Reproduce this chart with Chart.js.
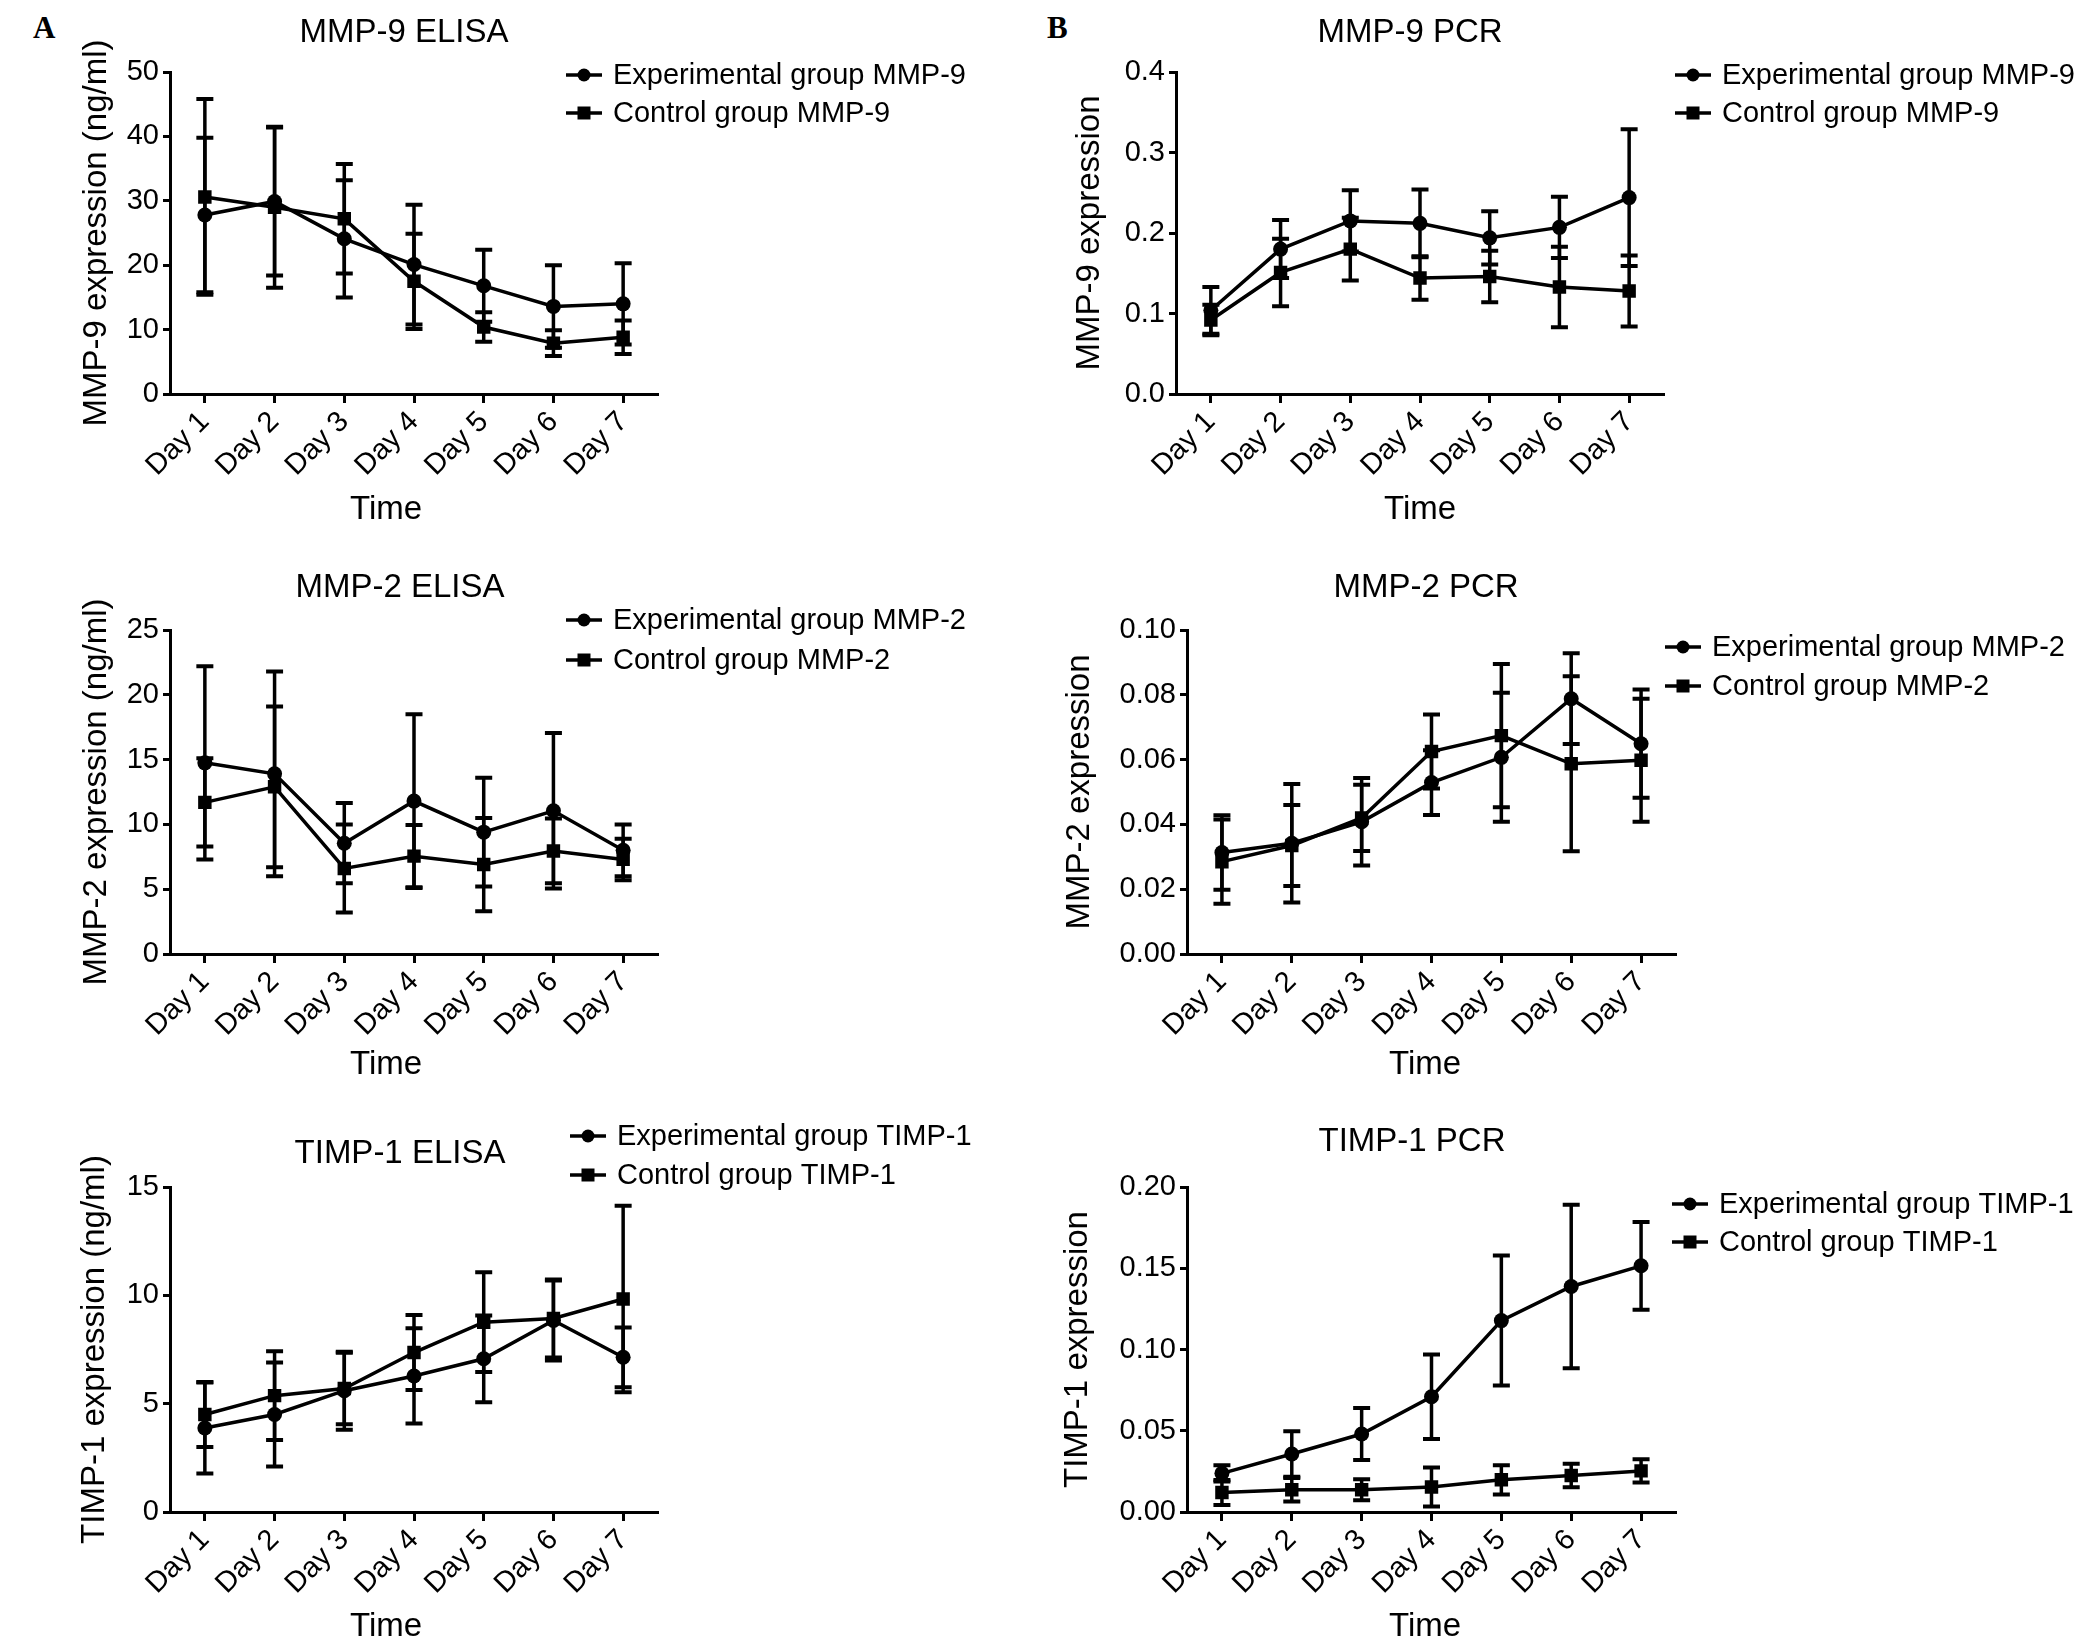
<!DOCTYPE html>
<html>
<head>
<meta charset="utf-8">
<script src="https://cdn.jsdelivr.net/npm/chart.js@4.4.1/dist/chart.umd.min.js"></script>
<style>
  html, body { margin: 0; padding: 0; background: #fff; overflow: hidden; }
  canvas { position: absolute; left: 0; top: 0; }
  .tag { position: absolute; font-family: 'Liberation Serif', 'Times New Roman', serif; font-weight: bold; font-size: 31px; color: #000; }
</style>
</head>
<body>
<div class="tag" style="left:33px; top:10px;">A</div>
<div class="tag" style="left:1047px; top:10px;">B</div>
<canvas id="c1" width="2075" height="1648"></canvas>
<canvas id="c2" width="2075" height="1648"></canvas>
<canvas id="c3" width="2075" height="1648"></canvas>
<canvas id="c4" width="2075" height="1648"></canvas>
<canvas id="c5" width="2075" height="1648"></canvas>
<canvas id="c6" width="2075" height="1648"></canvas>
<script>
// categories
var days = ['Day 1', 'Day 2', 'Day 3', 'Day 4', 'Day 5', 'Day 6', 'Day 7'];

// MMP-9 ELISA (ng/ml), mean and error
var mmp9ElisaExp     = [27.8, 29.9, 24.1, 20.1, 16.8, 13.6, 14.0];
var mmp9ElisaExpErr  = [12.0, 11.5, 9.1, 9.3, 5.6, 6.4, 6.3];
var mmp9ElisaCtrl    = [30.6, 29.0, 27.2, 17.5, 10.4, 7.9, 8.8];
var mmp9ElisaCtrlErr = [15.2, 12.5, 8.5, 7.4, 2.3, 2.0, 2.6];

// MMP-9 PCR
var mmp9PcrExp     = [0.104, 0.180, 0.215, 0.212, 0.194, 0.207, 0.244];
var mmp9PcrExpErr  = [0.029, 0.036, 0.038, 0.042, 0.033, 0.038, 0.085];
var mmp9PcrCtrl    = [0.092, 0.151, 0.180, 0.144, 0.146, 0.133, 0.128];
var mmp9PcrCtrlErr = [0.019, 0.042, 0.039, 0.027, 0.032, 0.050, 0.044];

// MMP-2 ELISA (ng/ml)
var mmp2ElisaExp     = [14.75, 13.9, 8.55, 11.8, 9.4, 11.05, 8.0];
var mmp2ElisaExpErr  = [7.45, 7.9, 3.1, 6.7, 4.2, 6.0, 2.0];
var mmp2ElisaCtrl    = [11.7, 12.9, 6.6, 7.55, 6.9, 7.95, 7.3];
var mmp2ElisaCtrlErr = [3.4, 6.2, 3.4, 2.4, 3.6, 2.5, 1.6];

// MMP-2 PCR
var mmp2PcrExp     = [0.0313, 0.0342, 0.0408, 0.0529, 0.0607, 0.0788, 0.0649];
var mmp2PcrExpErr  = [0.0115, 0.0183, 0.0135, 0.0100, 0.0199, 0.0140, 0.0167];
var mmp2PcrCtrl    = [0.0285, 0.0335, 0.0420, 0.0625, 0.0674, 0.0587, 0.0598];
var mmp2PcrCtrlErr = [0.0130, 0.0125, 0.0102, 0.0114, 0.0221, 0.0270, 0.0190];

// TIMP-1 ELISA (ng/ml)
var timp1ElisaExp     = [3.88, 4.5, 5.6, 6.28, 7.07, 8.84, 7.14];
var timp1ElisaExpErr  = [2.1, 2.4, 1.8, 2.2, 2.0, 1.85, 1.38];
var timp1ElisaCtrl    = [4.5, 5.37, 5.7, 7.36, 8.76, 8.93, 9.83];
var timp1ElisaCtrlErr = [1.5, 2.05, 1.65, 1.73, 2.3, 1.8, 4.3];

// TIMP-1 PCR
var timp1PcrExp     = [0.0238, 0.0357, 0.048, 0.0709, 0.1178, 0.1388, 0.1515];
var timp1PcrExpErr  = [0.005, 0.014, 0.016, 0.026, 0.040, 0.0503, 0.027];
var timp1PcrCtrl    = [0.012, 0.0137, 0.0137, 0.0154, 0.0198, 0.0225, 0.0253];
var timp1PcrCtrlErr = [0.0077, 0.0072, 0.0065, 0.012, 0.009, 0.0072, 0.0072];

var FONT = "'Liberation Sans', Arial, Helvetica, sans-serif";
var W = 2075, H = 1648;

// vertical error bars with caps, placed with the chart's own y scale
var errorBars = {
    id: 'errorBars',
    afterDatasetsDraw: function(chart) {
        var ctx = chart.ctx;
        var y = chart.scales.y;
        chart.data.datasets.forEach(function(ds, i) {
            var meta = chart.getDatasetMeta(i);
            meta.data.forEach(function(pt, j) {
                var v = ds.data[j], e = ds.errors[j];
                var top = y.getPixelForValue(v + e);
                var bot = y.getPixelForValue(v - e);
                ctx.save();
                ctx.strokeStyle = '#000';
                ctx.lineWidth = 3.5;
                ctx.beginPath();
                ctx.moveTo(pt.x, top);
                ctx.lineTo(pt.x, bot);
                ctx.stroke();
                ctx.lineWidth = 4;
                ctx.beginPath();
                ctx.moveTo(pt.x - 8.5, top); ctx.lineTo(pt.x + 8.5, top);
                ctx.moveTo(pt.x - 8.5, bot); ctx.lineTo(pt.x + 8.5, bot);
                ctx.stroke();
                ctx.restore();
            });
        });
    }
};

// titles, axis titles and the little legend
var panelText = {
    id: 'panelText',
    afterDraw: function(chart, args, o) {
        var ctx = chart.ctx;
        ctx.save();
        ctx.fillStyle = '#000';
        ctx.textBaseline = 'middle';
        ctx.textAlign = 'center';
        ctx.font = '33px ' + FONT;
        ctx.fillText(o.title, o.titleX, o.titleY);
        ctx.fillText('Time', o.xTitleX, o.xTitleY);
        ctx.save();
        ctx.translate(o.yTitleX, (chart.chartArea.top + chart.chartArea.bottom) / 2);
        ctx.rotate(-Math.PI / 2);
        ctx.fillText(o.yTitle, 0, 0);
        ctx.restore();

        ctx.textAlign = 'left';
        ctx.font = '29px ' + FONT;
        chart.data.datasets.forEach(function(ds, i) {
            var ly = o.legendY[i];
            var mx = (o.legendX0 + o.legendX1) / 2;
            ctx.strokeStyle = '#000';
            ctx.lineWidth = 3.5;
            ctx.beginPath();
            ctx.moveTo(o.legendX0, ly);
            ctx.lineTo(o.legendX1, ly);
            ctx.stroke();
            ctx.beginPath();
            if (ds.pointStyle === 'rect') {
                ctx.rect(mx - 6.5, ly - 6.5, 13, 13);
            } else {
                ctx.arc(mx, ly, 6.5, 0, Math.PI * 2);
            }
            ctx.fill();
            ctx.fillText(ds.label, o.textX, ly + 1);
        });
        ctx.restore();
    }
};

function makePanel(id, p) {
    var xAxisH = 110;
    return new Chart(document.getElementById(id), {
        type: 'line',
        data: {
            labels: days,
            datasets: [{
                label: 'Experimental group ' + p.name,
                data: p.exp,
                errors: p.expErr,
                pointStyle: 'circle',
                pointRadius: 7.5
            }, {
                label: 'Control group ' + p.name,
                data: p.ctrl,
                errors: p.ctrlErr,
                pointStyle: 'rect',
                pointRadius: 9.5
            }]
        },
        options: {
            responsive: false,
            animation: false,
            layout: {
                padding: { left: 0, top: p.top, right: W - p.right, bottom: H - p.bottom - xAxisH }
            },
            elements: {
                line: { borderColor: '#000', borderWidth: 3.5, tension: 0 },
                point: { backgroundColor: '#000', borderColor: '#000', borderWidth: 0 }
            },
            scales: {
                x: {
                    type: 'category',
                    offset: true,
                    grid: { display: true, drawOnChartArea: false, offset: false, tickLength: 9, tickWidth: 3, tickColor: '#000' },
                    border: { display: true, width: 3, color: '#000' },
                    ticks: { color: '#000', font: { family: FONT, size: 29 }, minRotation: 45, maxRotation: 45, autoSkip: false, padding: 2 },
                    afterFit: function(s) { s.height = xAxisH; }
                },
                y: {
                    min: 0,
                    max: p.max,
                    grid: { display: true, drawOnChartArea: false, tickLength: 7, tickWidth: 3, tickColor: '#000' },
                    border: { display: true, width: 3, color: '#000' },
                    ticks: {
                        stepSize: p.step,
                        color: '#000',
                        font: { family: FONT, size: 29 },
                        padding: 4,
                        callback: function(v) { return v.toFixed(p.dec); }
                    },
                    afterFit: function(s) { s.width = p.left; }
                }
            },
            plugins: {
                legend: { display: false },
                tooltip: { enabled: false },
                panelText: {
                    title: p.title, titleX: p.titleX, titleY: p.titleY,
                    yTitle: p.yTitle, yTitleX: p.yTitleX,
                    xTitleX: p.xTitleX, xTitleY: p.xTitleY,
                    legendX0: p.legX0, legendX1: p.legX0 + 36, textX: p.legX0 + 47,
                    legendY: p.legY
                }
            }
        },
        plugins: [errorBars, panelText]
    });
}

makePanel('c1', {
    name: 'MMP-9', title: 'MMP-9 ELISA', yTitle: 'MMP-9 expression (ng/ml)',
    exp: mmp9ElisaExp, expErr: mmp9ElisaExpErr, ctrl: mmp9ElisaCtrl, ctrlErr: mmp9ElisaCtrlErr,
    max: 50, step: 10, dec: 0,
    left: 170, right: 658, top: 72, bottom: 394,
    titleX: 404, titleY: 33, yTitleX: 97, xTitleX: 386, xTitleY: 510,
    legX0: 566, legY: [75, 113]
});
makePanel('c2', {
    name: 'MMP-9', title: 'MMP-9 PCR', yTitle: 'MMP-9 expression',
    exp: mmp9PcrExp, expErr: mmp9PcrExpErr, ctrl: mmp9PcrCtrl, ctrlErr: mmp9PcrCtrlErr,
    max: 0.4, step: 0.1, dec: 1,
    left: 1176, right: 1664, top: 72, bottom: 394,
    titleX: 1410, titleY: 33, yTitleX: 1090, xTitleX: 1420, xTitleY: 510,
    legX0: 1675, legY: [75, 113]
});
makePanel('c3', {
    name: 'MMP-2', title: 'MMP-2 ELISA', yTitle: 'MMP-2 expression (ng/ml)',
    exp: mmp2ElisaExp, expErr: mmp2ElisaExpErr, ctrl: mmp2ElisaCtrl, ctrlErr: mmp2ElisaCtrlErr,
    max: 25, step: 5, dec: 0,
    left: 170, right: 658, top: 630, bottom: 954,
    titleX: 400, titleY: 588, yTitleX: 97, xTitleX: 386, xTitleY: 1065,
    legX0: 566, legY: [620, 660]
});
makePanel('c4', {
    name: 'MMP-2', title: 'MMP-2 PCR', yTitle: 'MMP-2 expression',
    exp: mmp2PcrExp, expErr: mmp2PcrExpErr, ctrl: mmp2PcrCtrl, ctrlErr: mmp2PcrCtrlErr,
    max: 0.1, step: 0.02, dec: 2,
    left: 1187, right: 1676, top: 630, bottom: 954,
    titleX: 1426, titleY: 588, yTitleX: 1080, xTitleX: 1425, xTitleY: 1065,
    legX0: 1665, legY: [647, 686]
});
makePanel('c5', {
    name: 'TIMP-1', title: 'TIMP-1 ELISA', yTitle: 'TIMP-1 expression (ng/ml)',
    exp: timp1ElisaExp, expErr: timp1ElisaExpErr, ctrl: timp1ElisaCtrl, ctrlErr: timp1ElisaCtrlErr,
    max: 15, step: 5, dec: 0,
    left: 170, right: 658, top: 1187, bottom: 1512,
    titleX: 400, titleY: 1154, yTitleX: 95, xTitleX: 386, xTitleY: 1627,
    legX0: 570, legY: [1136, 1175]
});
makePanel('c6', {
    name: 'TIMP-1', title: 'TIMP-1 PCR', yTitle: 'TIMP-1 expression',
    exp: timp1PcrExp, expErr: timp1PcrExpErr, ctrl: timp1PcrCtrl, ctrlErr: timp1PcrCtrlErr,
    max: 0.2, step: 0.05, dec: 2,
    left: 1187, right: 1676, top: 1187, bottom: 1512,
    titleX: 1412, titleY: 1142, yTitleX: 1078, xTitleX: 1425, xTitleY: 1627,
    legX0: 1672, legY: [1204, 1242]
});
</script>
</body>
</html>
